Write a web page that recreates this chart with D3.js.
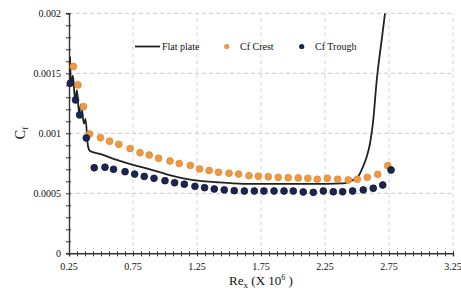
<!DOCTYPE html>
<html>
<head>
<meta charset="utf-8">
<script src="https://cdn.jsdelivr.net/npm/d3@7"></script>
<style>
  body { margin: 0; background: #fff; }
  text { font-family: "Liberation Serif", "Times New Roman", serif; fill: #111; }
</style>
</head>
<body>
<div class="chart"></div>
<script>
// flat plate curve (Re in millions, Cf)
const plateRe = [0.258, 0.266, 0.281, 0.297, 0.3125, 0.328, 0.344, 0.367, 0.379, 0.398, 0.414, 0.492, 0.623, 0.75, 0.883, 1.013, 1.143, 1.273, 1.404, 1.531, 1.664, 2.133, 2.391, 2.469, 2.508, 2.547, 2.576, 2.602, 2.625, 2.654, 2.693, 2.719]
const plateCf = [0.00164, 0.00141, 0.00148, 0.00128, 0.00136, 0.00117, 0.00124, 0.00108, 0.00112, 0.000894, 0.000853, 0.000828, 0.000778, 0.000736, 0.0007, 0.000658, 0.000625, 0.000603, 0.000592, 0.000583, 0.000578, 0.000578, 0.000583, 0.000611, 0.000638, 0.000722, 0.000805, 0.000917, 0.00109, 0.00144, 0.00178, 0.002]

const crestRe = [0.284, 0.320, 0.363, 0.411, 0.496, 0.567, 0.639, 0.727, 0.805, 0.877, 0.95, 1.039, 1.111, 1.198, 1.27, 1.345, 1.418, 1.5, 1.575, 1.656, 1.729, 1.807, 1.885, 1.963, 2.041, 2.116, 2.19, 2.268, 2.349, 2.432, 2.502, 2.58, 2.662, 2.74]
const crestCf = [0.001557, 0.001403, 0.001222, 0.000994, 0.000963, 0.000934, 0.000908, 0.000873, 0.000838, 0.000819, 0.000792, 0.000769, 0.000748, 0.000732, 0.000703, 0.00069, 0.000675, 0.000667, 0.00066, 0.000647, 0.000642, 0.000638, 0.000633, 0.00063, 0.000628, 0.000625, 0.000617, 0.000625, 0.000617, 0.000611, 0.000617, 0.000633, 0.000658, 0.00073]

const troughRe = [0.26, 0.301, 0.333, 0.385, 0.447, 0.531, 0.598, 0.688, 0.763, 0.838, 0.914, 1.0, 1.075, 1.151, 1.234, 1.309, 1.385, 1.463, 1.541, 1.62, 1.698, 1.773, 1.852, 1.93, 2.002, 2.08, 2.159, 2.237, 2.315, 2.388, 2.466, 2.549, 2.627, 2.701, 2.766]
const troughCf = [0.001417, 0.001278, 0.001153, 0.000961, 0.000713, 0.000717, 0.0007, 0.00068, 0.00066, 0.000641, 0.000625, 0.000605, 0.000588, 0.000576, 0.000558, 0.000547, 0.000536, 0.000528, 0.000522, 0.000519, 0.000519, 0.000519, 0.000519, 0.000519, 0.000519, 0.000511, 0.000508, 0.000519, 0.000513, 0.000513, 0.000519, 0.000528, 0.000542, 0.000569, 0.000694]

const xTicks = [0.25, 0.75, 1.25, 1.75, 2.25, 2.75, 3.25]
const yTicks = [0, 0.0005, 0.001, 0.0015, 0.002]
const yTickLabels = ['0', '0.0005', '0.001', '0.0015', '0.002']
const legendNames = ['Flat plate', 'Cf Crest', 'Cf Trough']

const width = 461
const height = 291
const orange = '#ee9843'
const navy = '#1b2550'

const x = d3.scaleLinear().domain([0.25, 3.25]).range([69, 453])
const y = d3.scaleLinear().domain([0, 0.002]).range([253.3, 13.3])

let svg = d3.select('.chart')
  .append('svg')
  .attr('width', width)
  .attr('height', height)

// grid
svg.append('g')
  .selectAll('line')
  .data(yTicks.slice(1))
  .enter()
  .append('line')
  .attr('x1', x(0.25)).attr('x2', x(3.25))
  .attr('y1', d => y(d)).attr('y2', d => y(d))
  .attr('stroke', '#c8c8c8')
  .attr('stroke-dasharray', '4,3')

svg.append('g')
  .selectAll('line')
  .data(xTicks.slice(1))
  .enter()
  .append('line')
  .attr('x1', d => x(d)).attr('x2', d => x(d))
  .attr('y1', y(0)).attr('y2', y(0.002))
  .attr('stroke', '#d4d4d4')
  .attr('stroke-dasharray', '4,3')

// axes
let xAxis = svg.append('g')
  .attr('transform', `translate(0,${y(0)})`)
  .call(d3.axisBottom(x).tickValues(d3.range(0.25, 3.2501, 0.0625)).tickSize(3).tickFormat(''))
xAxis.selectAll('.tick line').attr('y1', -2).attr('stroke', '#333')
xAxis.select('.domain').attr('stroke', '#333').attr('stroke-width', 1.4)

let yAxis = svg.append('g')
  .attr('transform', `translate(${x(0.25)},0)`)
  .call(d3.axisLeft(y).tickValues(d3.range(0, 0.002001, 0.0001)).tickSize(3).tickFormat(''))
yAxis.selectAll('.tick line').attr('x1', 2).attr('stroke', '#333')
yAxis.select('.domain').attr('stroke', '#333').attr('stroke-width', 1.4)

svg.append('g')
  .selectAll('text')
  .data(xTicks)
  .enter()
  .append('text')
  .attr('x', d => x(d))
  .attr('y', 270)
  .attr('text-anchor', 'middle')
  .attr('font-size', 10)
  .text(d => d.toFixed(2))

svg.append('g')
  .selectAll('text')
  .data(yTicks)
  .enter()
  .append('text')
  .attr('x', 61)
  .attr('y', d => y(d) + 3.5)
  .attr('text-anchor', 'end')
  .attr('font-size', 10)
  .text((d, i) => yTickLabels[i])

// axis titles
let xt = svg.append('text')
  .attr('x', 261)
  .attr('y', 285)
  .attr('text-anchor', 'middle')
  .attr('font-size', 13)
xt.append('tspan').text('Re')
xt.append('tspan').attr('font-size', 9).attr('dy', 2.5).text('x')
xt.append('tspan').attr('dy', -2.5).text(' (X 10')
xt.append('tspan').attr('font-size', 8).attr('dy', -5).text('6')
xt.append('tspan').attr('dy', 5).text(' )')

let yt = svg.append('text')
  .attr('transform', 'translate(25,133) rotate(-90)')
  .attr('text-anchor', 'middle')
  .attr('font-size', 14)
yt.append('tspan').text('C')
yt.append('tspan').attr('font-size', 9).attr('dy', 3).text('f')

// series
let clip = svg.append('clipPath').attr('id', 'plot')
clip.append('rect').attr('x', x(0.25)).attr('y', y(0.002) - 1).attr('width', x(3.25) - x(0.25)).attr('height', y(0) - y(0.002) + 1)

const plate = plateRe.map((d, i) => [d, plateCf[i]])
svg.append('path')
  .datum(plate)
  .attr('clip-path', 'url(#plot)')
  .attr('d', d3.line().x(d => x(d[0])).y(d => y(d[1])).curve(d3.curveMonotoneX))
  .attr('fill', 'none')
  .attr('stroke', '#222')
  .attr('stroke-width', 1.8)

svg.append('g')
  .selectAll('circle')
  .data(crestRe)
  .enter()
  .append('circle')
  .attr('cx', d => x(d))
  .attr('cy', (d, i) => y(crestCf[i]))
  .attr('r', 3.4)
  .attr('fill', orange)
  .attr('stroke', '#e08a35')
  .attr('stroke-width', 0.8)

svg.append('g')
  .selectAll('circle')
  .data(troughRe)
  .enter()
  .append('circle')
  .attr('cx', d => x(d))
  .attr('cy', (d, i) => y(troughCf[i]))
  .attr('r', 3.4)
  .attr('fill', navy)
  .attr('stroke', '#111a3a')
  .attr('stroke-width', 0.8)

// legend
let lg = svg.append('g')
lg.append('line').attr('x1', 135).attr('x2', 160).attr('y1', 46.5).attr('y2', 46.5).attr('stroke', '#222').attr('stroke-width', 1.8)
lg.append('circle').attr('cx', 226.7).attr('cy', 46.5).attr('r', 2.6).attr('fill', orange)
lg.append('circle').attr('cx', 301.7).attr('cy', 46.5).attr('r', 2.6).attr('fill', navy)
lg.selectAll('text')
  .data(legendNames)
  .enter()
  .append('text')
  .attr('x', (d, i) => [162, 240, 315][i])
  .attr('y', 50)
  .attr('font-size', 10)
  .text(d => d)
</script>
</body>
</html>
